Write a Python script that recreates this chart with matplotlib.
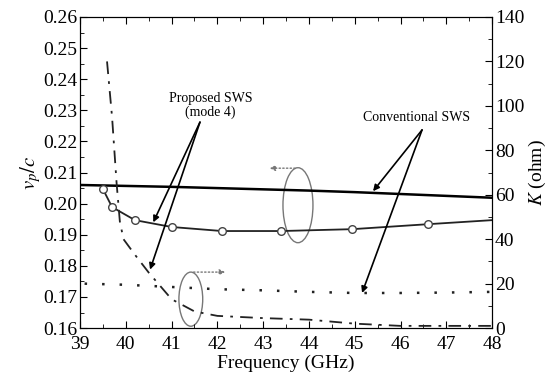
import matplotlib.pyplot as plt
import numpy as np
from matplotlib.patches import Ellipse
from matplotlib.ticker import MultipleLocator

plt.rcParams['font.family'] = ['Liberation Serif', 'DejaVu Serif']
plt.rcParams['mathtext.fontset'] = 'stix'

# conventional SWS, phase velocity
conv_f = [39, 40, 41, 42, 43, 44, 45, 46, 47, 48]
conv_vp = [0.2060, 0.2057, 0.2054, 0.2050, 0.2046, 0.2042, 0.2037, 0.2031, 0.2025, 0.2019]
# proposed SWS (mode 4), phase velocity
prop_f = [39.5, 39.7, 40.2, 41.0, 42.1, 43.4, 44.95, 46.6, 48.0]
prop_vp = [0.2047, 0.1989, 0.1947, 0.1925, 0.1912, 0.1912, 0.1918, 0.1934, 0.1947]
# conventional SWS, interaction impedance
convK_f = [39.1, 40, 41, 42, 43, 44, 45, 46, 47, 48]
convK = [20.0, 19.5, 18.5, 17.5, 17.0, 16.3, 15.8, 15.8, 16.0, 16.3]
# proposed SWS, interaction impedance
propK_f = [39.59, 39.7, 39.8, 39.87, 39.95, 40.2, 40.5, 41.0, 41.5, 42, 43, 44, 45, 46, 47, 48]
propK = [120, 95, 65, 48, 40, 33, 25, 13, 7.5, 5.5, 4.5, 3.8, 2.0, 1.0, 1.0, 1.0]

fig = plt.figure(figsize=(5.48, 3.86), dpi=100)
ax = fig.add_axes([0.146, 0.150, 0.752, 0.806])
ax2 = ax.twinx()

ax.plot(conv_f, conv_vp, color='black', lw=1.8)
ax.plot(prop_f, prop_vp, color='#222222', lw=1.3, marker='o', ms=5.5,
        mfc='white', mec='#444444', markevery=list(range(8)))
ax2.plot(convK_f, convK, color='#222222', lw=1.8, linestyle=(0, (1, 6)))
ax2.plot(propK_f, propK, color='#222222', lw=1.3, linestyle=(0, (7, 4, 1.5, 4)))

ax.set_xlim(39, 48)
ax.set_ylim(0.16, 0.26)
ax2.set_ylim(0, 140)
ax.xaxis.set_major_locator(MultipleLocator(1))
ax.xaxis.set_minor_locator(MultipleLocator(0.5))
ax.yaxis.set_major_locator(MultipleLocator(0.01))
ax.yaxis.set_minor_locator(MultipleLocator(0.005))
ax.yaxis.set_major_formatter(plt.FuncFormatter(lambda v, p: f'{v:.2f}'))
ax2.yaxis.set_major_locator(MultipleLocator(20))
ax2.yaxis.set_minor_locator(MultipleLocator(10))

ax.tick_params(which='both', direction='in', top=True, labelsize=14)
ax.tick_params(axis='y', pad=2)
ax.tick_params(axis='x', pad=6)
ax.tick_params(which='major', length=5)
ax.tick_params(which='minor', length=3)
ax2.tick_params(which='both', direction='in', labelsize=14, pad=2)
ax2.tick_params(which='major', length=5)
ax2.tick_params(which='minor', length=3)

ax.set_xlabel('Frequency (GHz)', fontsize=14, labelpad=1)
ax.set_ylabel(r'$v_p/c$', fontsize=15, labelpad=0)
ax2.set_ylabel(r'$K$ (ohm)', fontsize=14, labelpad=2)

# ellipses with arrows marking the axes
ax.add_patch(Ellipse((43.76, 0.1995), 0.655, 0.0241, fill=False, ec='#777777', lw=1))
ax.annotate('', xy=(43.08, 0.2114), xytext=(43.76, 0.2114),
            arrowprops=dict(arrowstyle='-|>', color='#777777', lw=1, ls=':', mutation_scale=8))
ax.add_patch(Ellipse((41.42, 0.1693), 0.52, 0.0174, fill=False, ec='#777777', lw=1))
ax.annotate('', xy=(42.23, 0.178), xytext=(41.42, 0.178),
            arrowprops=dict(arrowstyle='-|>', color='#777777', lw=1, ls=':', mutation_scale=8))

# text labels with arrows
ax.text(41.85, 0.2272, 'Proposed SWS\n(mode 4)', fontsize=10, ha='center', va='bottom',
        linespacing=1.1)
arrow = dict(arrowstyle='-|>', color='black', lw=1.2, mutation_scale=9, shrinkA=0, shrinkB=0)
ax.annotate('', xy=(40.6, 0.1940), xytext=(41.62, 0.2262), arrowprops=arrow)
ax.annotate('', xy=(40.53, 0.1788), xytext=(41.62, 0.2262), arrowprops=arrow)
ax.text(46.36, 0.2256, 'Conventional SWS', fontsize=10, ha='center', va='bottom')
ax.annotate('', xy=(45.4, 0.2040), xytext=(46.47, 0.2237), arrowprops=arrow)
ax.annotate('', xy=(45.16, 0.1713), xytext=(46.47, 0.2237), arrowprops=arrow)

fig.savefig('out.png', dpi=100)
